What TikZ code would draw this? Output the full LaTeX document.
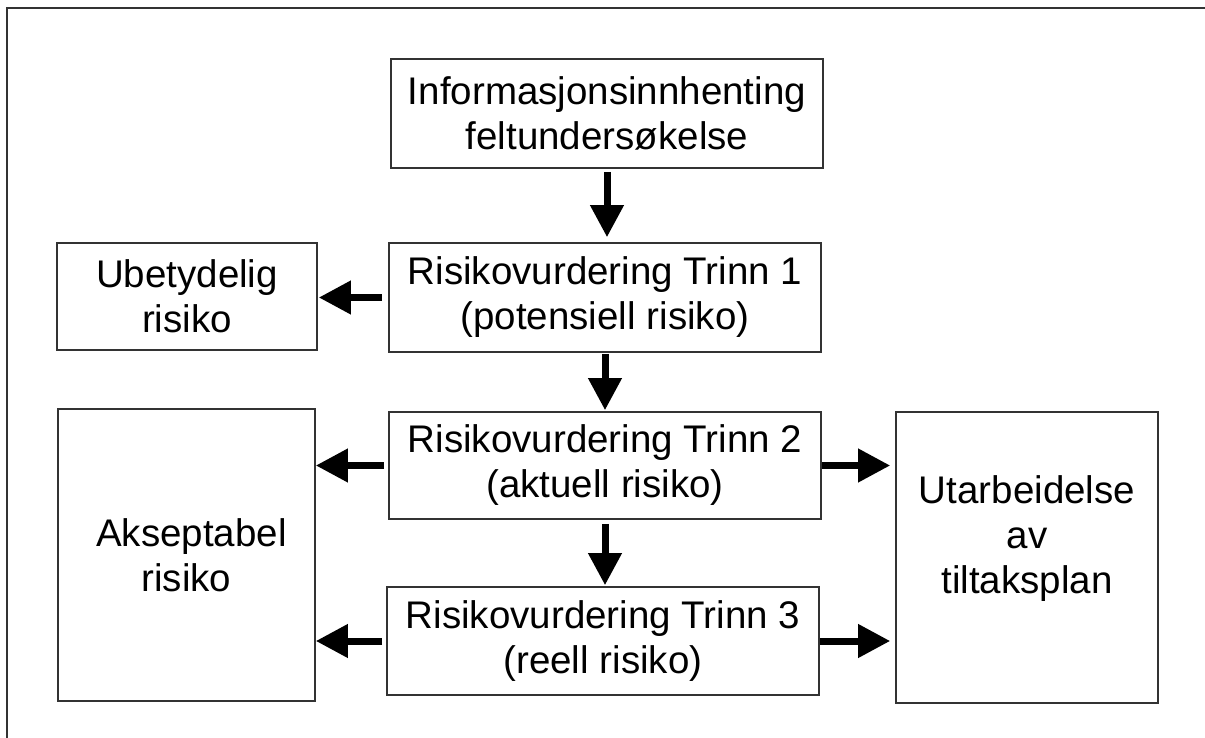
\documentclass[tikz,border=0pt]{standalone}
\usepackage{fontspec}
\setmainfont{Liberation Sans}
\usetikzlibrary{arrows.meta}
\definecolor{edge}{HTML}{333333}
\tikzset{
  box/.style={draw=edge, line width=1.6pt, inner sep=0pt, align=center,
    font=\fontsize{38.5}{45}\selectfont, text=black},
  flow/.style={line width=7pt, -{Triangle[length=32pt,width=32pt]}, black},
}
\begin{document}
\begin{tikzpicture}[x=1pt,y=-1pt]
\useasboundingbox (0,0) rectangle (1205,738);
\draw[edge, line width=2pt] (1215,8) -- (7,8) -- (7,748);
\node[box, minimum width=432pt, minimum height=109pt] (info) at (607,113.5) {Informasjonsinnhenting\\feltundersøkelse};
\node[box, minimum width=432pt, minimum height=109pt] (t1) at (605,297.5) {Risikovurdering Trinn 1\\(potensiell risiko)};
\node[box, minimum width=260pt, minimum height=107pt] (ub) at (187,296.5) {Ubetydelig\\risiko};
\node[box, minimum width=432pt, minimum height=107pt] (t2) at (605,465.5) {Risikovurdering Trinn 2\\(aktuell risiko)};
\node[box, minimum width=432pt, minimum height=108pt] (t3) at (603,641) {Risikovurdering Trinn 3\\(reell risiko)};
\node[box, minimum width=257pt, minimum height=292pt] (ak) at (186.5,555) {\hspace*{10pt}Akseptabel\\risiko};
\node[box, minimum width=262pt, minimum height=291pt] (ut) at (1027,557.5) {Utarbeidelse\\av\\tiltaksplan\\[-12pt]\strut};
\draw[flow, shorten <=3pt, shorten >=5pt] (info.south) -- (info.south |- t1.north);
\draw[flow, shorten <=6pt, shorten >=1pt] (t1.west) -- (t1.west -| ub.east);
\draw[flow, shorten <=1pt, shorten >=1pt] (t1.south) -- (t1.south |- t2.north);
\draw[flow, shorten <=4pt, shorten >=0pt] (t2.west) -- (t2.west -| ak.east);
\draw[flow, shorten <=0pt, shorten >=5pt] (t2.east) -- (t2.east -| ut.west);
\draw[flow, shorten <=4pt, shorten >=1pt] (t2.south) -- (t2.south |- t3.north);
\draw[flow, shorten <=4pt, shorten >=0pt] (t3.west) -- (t3.west -| ak.east);
\draw[flow, shorten <=0pt, shorten >=5pt] (t3.east) -- (t3.east -| ut.west);
\end{tikzpicture}
\end{document}
